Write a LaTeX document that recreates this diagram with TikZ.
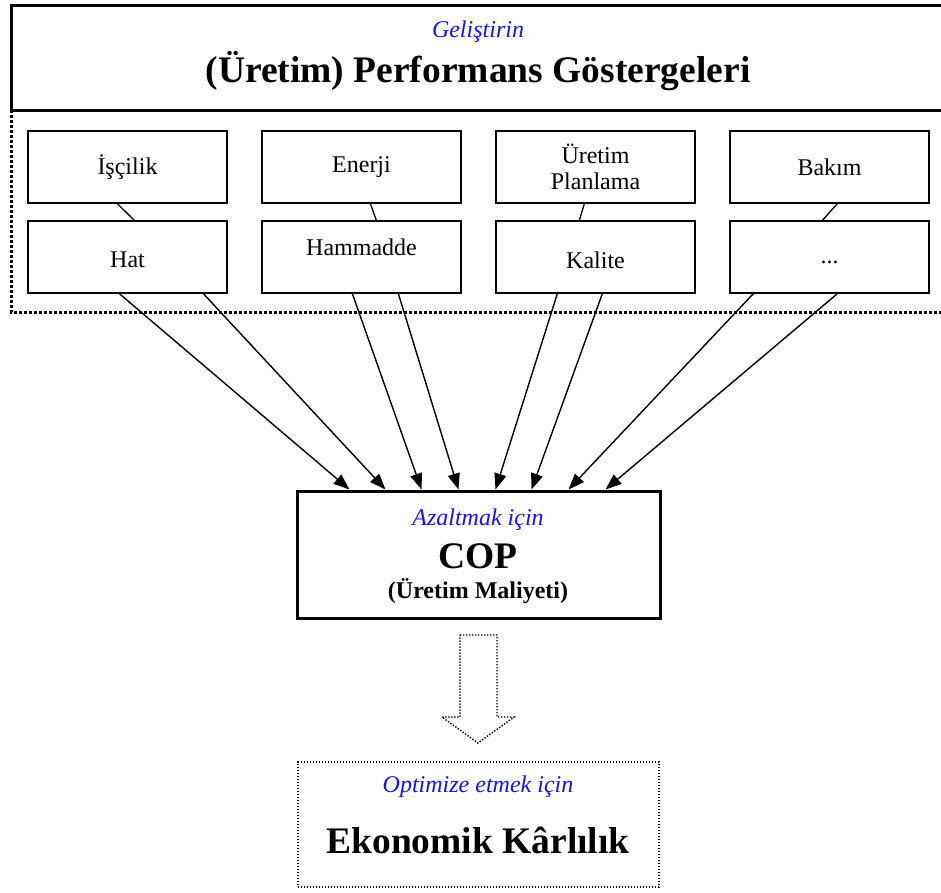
\documentclass[tikz,border=0pt]{standalone}
\usepackage{fontspec}
\setmainfont{Liberation Serif}
\usetikzlibrary{arrows.meta,calc}
\definecolor{labelblue}{RGB}{20,20,235}
\begin{document}
\begin{tikzpicture}[x=1pt,y=-1pt,
  heavybox/.style={draw,line width=3pt,inner sep=0pt},
  itembox/.style={draw,line width=1.3pt,minimum width=199pt,minimum height=72pt,inner sep=0pt,font=\fontsize{24}{26}\selectfont,align=center},
  itemtext/.style={font=\fontsize{24}{26}\selectfont,inner sep=0pt},
  dotline/.style={line width=3pt,dash pattern=on 3pt off 2pt},
  fineline/.style={line width=1.4pt,dash pattern=on 1.4pt off 1.6pt},
  link/.style={line width=1.3pt},
  feed/.style={line width=1.4pt,-{Triangle[length=16pt,width=12pt]}},
  note/.style={text=labelblue,font=\fontsize{24}{26}\selectfont\itshape,inner sep=0pt},
  bigtitle/.style={font=\fontsize{37.5}{40}\selectfont\bfseries,inner sep=0pt},
]
\clip (0,0) rectangle (941,892);
\fill[white] (0,0) rectangle (941,892);

% header band and the dotted group frame below it
\draw[dotline] (11,110) -- (11,312) -- (960,312);
\draw[line width=3pt] (960,5) -- (11,5) -- (11,110) -- (960,110);
\node[note] (dev) at (478,32) {Geliştirin};
\node[bigtitle] (title) at (478,71) {(Üretim) Performans Göstergeleri};

% indicator boxes
\node[itembox] (iscilik) at (127.5,167) {İşçilik};
\node[itembox] (enerji) at (361.5,167) {Enerji};
\node[itembox] (planlama) at (595.5,167) {Üretim\\Planlama};
\node[itembox] (bakim) at (829.5,167) {Bakım};
\node[itembox] (hat) at (127.5,257) {};
\node[itembox] (hammadde) at (361.5,257) {};
\node[itembox] (kalite) at (595.5,257) {};
\node[itembox] (diger) at (829.5,257) {};
\node[itemtext] (hatlbl) at (127.5,260) {Hat};
\node[itemtext] (hamlbl) at (361.5,247) {Hammadde};
\node[itemtext] (kallbl) at (595.5,260) {Kalite};
\node[itemtext] (diglbl) at (829.5,262) {...};

% short links between the two rows
\draw[link] ([xshift=90pt]iscilik.south west) -- ([xshift=107pt]hat.north west);
\draw[link] ([xshift=109pt]enerji.south west) -- ([xshift=115pt]hammadde.north west);
\draw[link] ([xshift=89pt]planlama.south west) -- ([xshift=84pt]kalite.north west);
\draw[link] ([xshift=108pt]bakim.south west) -- ([xshift=93pt]diger.north west);

% cost box
\node[heavybox,minimum width=363pt,minimum height=127pt] (cop) at (478.5,554.5) {};
\node[note] (reduce) at (478,520) {Azaltmak için};
\node[bigtitle] (coplbl) at (478,556) {COP};
\node[font=\fontsize{24}{26}\selectfont\bfseries,inner sep=0pt] (coplbl2) at (478,591) {(Üretim Maliyeti)};

% arrows from the indicators into the cost box
\draw[feed] ([xshift=92pt]hat.south west) -- ([xshift=54pt]cop.north west);
\draw[feed] ([xshift=176pt]hat.south west) -- ([xshift=90pt]cop.north west);
\draw[feed] ([xshift=91pt]hammadde.south west) -- ([xshift=126pt]cop.north west);
\draw[feed] ([xshift=137pt]hammadde.south west) -- ([xshift=163pt]cop.north west);
\draw[feed] ([xshift=62pt]kalite.south west) -- ([xshift=200pt]cop.north west);
\draw[feed] ([xshift=107pt]kalite.south west) -- ([xshift=236pt]cop.north west);
\draw[feed] ([xshift=24pt]diger.south west) -- ([xshift=273pt]cop.north west);
\draw[feed] ([xshift=108pt]diger.south west) -- ([xshift=310pt]cop.north west);

% hollow dotted arrow down to the goal
\coordinate (shaftL) at (460,635);
\draw[fineline] (shaftL) -- (497,635) -- (497,717) -- (514,717) -- (478,743)
  -- (442,717) -- (460,717) -- cycle;

% goal box
\node[draw,fineline,minimum width=361pt,minimum height=125pt,inner sep=0pt] (goal) at (478.5,824.5) {};
\node[note] (opt) at (478,787) {Optimize etmek için};
\node[bigtitle] (goallbl) at (478,840) {Ekonomik Kârlılık};
\end{tikzpicture}
\end{document}
